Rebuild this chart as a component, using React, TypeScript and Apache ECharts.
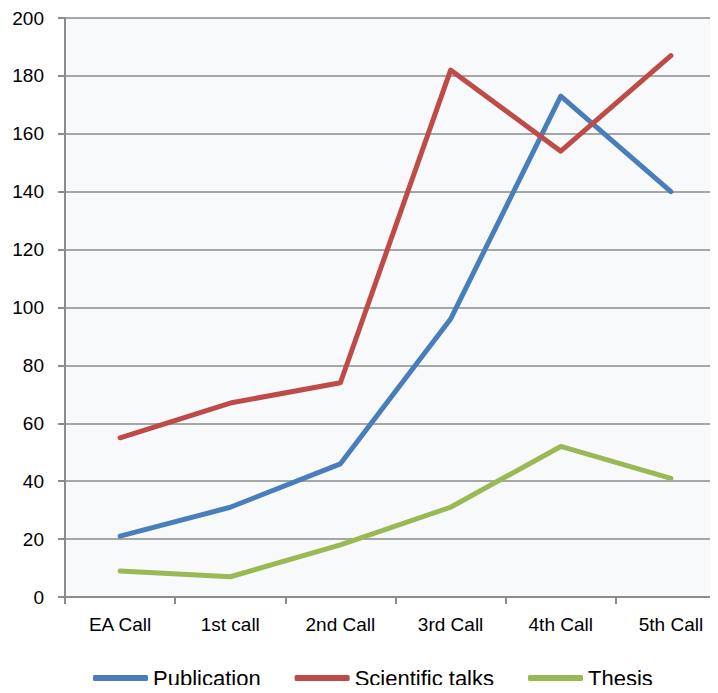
import React, { useEffect, useRef } from "react";
import * as echarts from "echarts";

const categories = ["EA Call", "1st call", "2nd Call", "3rd Call", "4th Call", "5th Call"];
const publication = [21, 31, 46, 96, 173, 140];
const scientificTalks = [55, 67, 74, 182, 154, 187];
const thesis = [9, 7, 18, 31, 52, 41];
const seriesNames = ["Publication", "Scientific talks", "Thesis"];
const seriesColors = ["#4a7ebb", "#be4b48", "#98b954"];

const font = "'Liberation Sans', Arial, sans-serif";

export default function App() {
  const ref = useRef<HTMLDivElement>(null);

  useEffect(() => {
    if (!ref.current) return;
    const chart = echarts.init(ref.current, null, { renderer: "svg" });
    const values = [publication, scientificTalks, thesis];
    chart.setOption({
      animation: false,
      backgroundColor: "#ffffff",
      grid: {
        left: 65,
        top: 18,
        width: 661,
        height: 579,
        outerBoundsMode: "none",
        containLabel: false,
        show: true,
        backgroundColor: "#f8f9fb",
        borderWidth: 0,
      },
      legend: {
        top: 662,
        left: 88,
        itemWidth: 55,
        itemHeight: 6,
        itemGap: 34,
        icon: "roundRect",
        textStyle: { fontFamily: font, fontSize: 22, color: "#000" },
        data: seriesNames,
      },
      xAxis: {
        type: "category",
        data: categories,
        boundaryGap: true,
        axisLine: { show: true, lineStyle: { color: "#8c8c8c", width: 2 } },
        axisTick: { show: true, length: 7, lineStyle: { color: "#8c8c8c", width: 2 } },
        axisLabel: { fontFamily: font, fontSize: 19, color: "#000", margin: 18 },
        splitLine: { show: false },
      },
      yAxis: {
        type: "value",
        min: 0,
        max: 200,
        interval: 20,
        axisLine: { show: true, lineStyle: { color: "#8c8c8c", width: 2 } },
        axisTick: { show: true, length: 7, lineStyle: { color: "#8c8c8c", width: 2 } },
        axisLabel: { fontFamily: font, fontSize: 19, color: "#000", margin: 21 },
        splitLine: { show: true, lineStyle: { color: "#8a8a8a", width: 1.5 } },
      },
      series: seriesNames.map((name, i) => ({
        name,
        type: "line",
        data: values[i],
        symbol: "none",
        color: seriesColors[i],
        lineStyle: { width: 5, color: seriesColors[i], cap: "round", join: "round" },
      })),
    });
    return () => chart.dispose();
  }, []);

  return <div ref={ref} style={{ width: 718, height: 693, margin: -8 }} />;
}
